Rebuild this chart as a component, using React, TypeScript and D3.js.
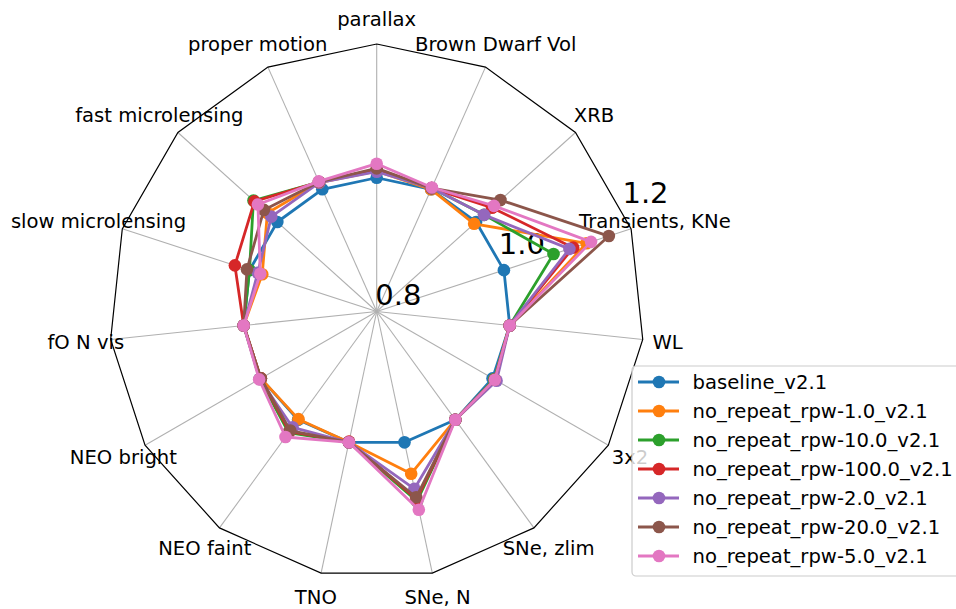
import React from "react";
import * as d3 from "d3";

const categories = [
  "parallax", "Brown Dwarf Vol", "XRB", "Transients, KNe", "WL", "3x2",
  "SNe, zlim", "SNe, N", "TNO", "NEO faint", "NEO bright", "fO N vis",
  "slow microlensing", "fast microlensing", "proper motion",
];

const seriesNames = [
  "baseline_v2.1",
  "no_repeat_rpw-1.0_v2.1",
  "no_repeat_rpw-10.0_v2.1",
  "no_repeat_rpw-100.0_v2.1",
  "no_repeat_rpw-2.0_v2.1",
  "no_repeat_rpw-20.0_v2.1",
  "no_repeat_rpw-5.0_v2.1",
];

const baseline = [1.0, 1.0, 1.0, 1.0, 1.0, 1.0, 1.0, 1.0, 1.0, 1.0, 1.0, 1.0, 1.0, 1.0, 1.0];
const rpw1 = [1.010, 1.0, 0.996, 1.13, 1.0, 1.003, 1.0, 1.048, 1.0, 0.999, 1.0, 1.0, 0.98, 1.02, 1.011];
const rpw10 = [1.011, 1.002, 1.016, 1.078, 1.0, 1.003, 1.0, 1.09, 1.0, 1.024, 1.002, 1.0, 1.0, 1.048, 1.012];
const rpw100 = [1.012, 1.002, 1.032, 1.109, 1.0, 1.004, 1.0, 1.087, 0.999, 1.022, 1.0, 1.0, 1.023, 1.046, 1.012];
const rpw2 = [1.009, 1.002, 1.016, 1.103, 1.0, 1.007, 1.0, 1.071, 1.0, 1.014, 1.002, 1.0, 0.987, 1.012, 1.011];
const rpw20 = [1.014, 1.002, 1.049, 1.165, 1.0, 1.004, 1.0, 1.084, 1.0, 1.02, 1.0, 1.0, 1.004, 1.027, 1.012];
const rpw5 = [1.021, 1.003, 1.036, 1.137, 1.0, 1.004, 1.0, 1.103, 1.0, 1.032, 1.003, 1.0, 0.983, 1.039, 1.013];

const seriesValues = [baseline, rpw1, rpw10, rpw100, rpw2, rpw20, rpw5];
const colors = ["#1f77b4", "#ff7f0e", "#2ca02c", "#d62728", "#9467bd", "#8c564b", "#e377c2"];
const rTicks = [0.8, 1.0, 1.2];

const W = 956, H = 609;
const cx = 376.7, cy = 311.5, R = 267.5;
const FONT = "DejaVu Sans, sans-serif";

export default function App() {
  const r = d3.scaleLinear().domain([0.8, 1.2]).range([0, R]);
  const n = categories.length;
  const ang = d3.scaleLinear().domain([0, n]).range([0, 2 * Math.PI]);
  const pt = (i: number, rad: number): [number, number] => [
    cx + rad * Math.sin(ang(i)),
    cy - rad * Math.cos(ang(i)),
  ];
  const frame = d3.range(n).map((i) => pt(i, R));
  const lineGen = d3.line<[number, number]>().curve(d3.curveLinearClosed);

  const labelR = 292.5;
  const rlabAng = (22.5 * Math.PI) / 180;

  const legX = 632, legY = 366, legRow = 29, legFirst = 382;

  return (
    <svg width={W} height={H} style={{ position: "absolute", left: 0, top: 0 }} fontFamily={FONT}>
      <rect x={0} y={0} width={W} height={H} fill="#ffffff" />
      {frame.map((p, i) => (
        <line key={"s" + i} x1={cx} y1={cy} x2={p[0]} y2={p[1]} stroke="#b0b0b0" strokeWidth={1.1} />
      ))}
      <path d={lineGen(frame) || ""} fill="none" stroke="#000" strokeWidth={1.2} />
      {rTicks.map((t) => {
        const rr = r(t);
        const x = cx + rr * Math.cos(rlabAng);
        const y = cy - rr * Math.sin(rlabAng);
        return (
          <text key={"rt" + t} x={x - 1.4} y={y - 6.2} fontSize={29} fill="#000">
            {t.toFixed(1)}
          </text>
        );
      })}
      {categories.map((c, i) => {
        const [x, y] = pt(i, labelR);
        return (
          <text key={"c" + i} x={x} y={y} fontSize={19.6} textAnchor="middle" dy="0.34em" fill="#000">
            {c}
          </text>
        );
      })}
      {seriesValues.map((vals, si) => {
        const pts = vals.map((v, i) => pt(i, r(v)));
        return (
          <g key={"g" + si}>
            <path d={lineGen(pts) || ""} fill="none" stroke={colors[si]} strokeWidth={2.8} strokeLinejoin="round" />
            {pts.map((p, i) => (
              <circle key={i} cx={p[0]} cy={p[1]} r={6.3} fill={colors[si]} />
            ))}
          </g>
        );
      })}
      <rect x={legX} y={legY} width={400} height={210} rx={4} ry={4} fill="#ffffff" fillOpacity={0.8} stroke="#cccccc" strokeWidth={1.2} />
      {seriesNames.map((name, i) => {
        const y = legFirst + i * legRow;
        return (
          <g key={"l" + i}>
            <line x1={638} x2={679} y1={y} y2={y} stroke={colors[i]} strokeWidth={2.8} />
            <circle cx={659} cy={y} r={6.3} fill={colors[i]} />
            <text x={692.5} y={y + 7} fontSize={19.6} fill="#000">{name}</text>
          </g>
        );
      })}
    </svg>
  );
}
